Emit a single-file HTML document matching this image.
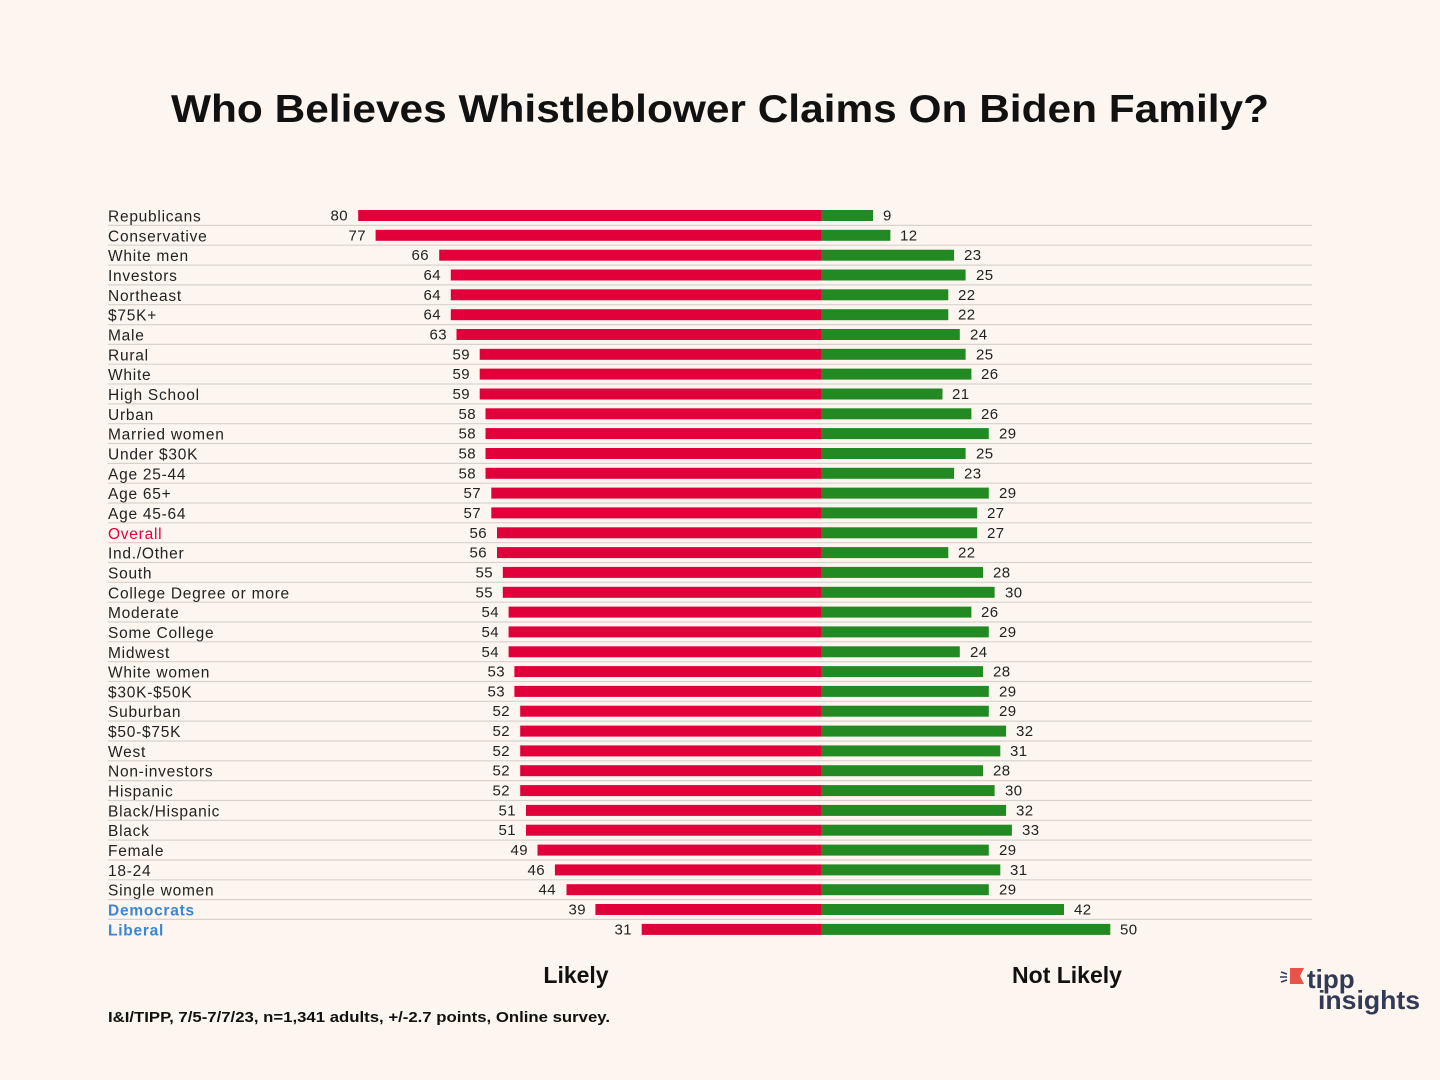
<!DOCTYPE html>
<html><head><meta charset="utf-8"><style>
html,body{margin:0;padding:0;background:#fdf6f0;}
svg{display:block;font-family:"Liberation Sans",sans-serif;}
.l{font-size:15.5px;fill:#222;letter-spacing:0.75px;}
.v{font-size:15px;fill:#222;letter-spacing:0.4px;}
.r{text-anchor:end;}
</style></head><body>
<svg width="1440" height="1080" viewBox="0 0 1440 1080" xmlns="http://www.w3.org/2000/svg">
<rect width="1440" height="1080" fill="#fdf6f0"/>
<text x="720" y="122" text-anchor="middle" font-size="39" font-weight="bold" fill="#111" textLength="1098" lengthAdjust="spacingAndGlyphs">Who Believes Whistleblower Claims On Biden Family?</text>
<g id="rows">
<g stroke="#d8d2cc" stroke-width="1.2">
<line x1="108" x2="1312" y1="225.4" y2="225.4"/><line x1="108" x2="1312" y1="245.2" y2="245.2"/><line x1="108" x2="1312" y1="265.1" y2="265.1"/><line x1="108" x2="1312" y1="284.9" y2="284.9"/><line x1="108" x2="1312" y1="304.7" y2="304.7"/><line x1="108" x2="1312" y1="324.6" y2="324.6"/><line x1="108" x2="1312" y1="344.4" y2="344.4"/><line x1="108" x2="1312" y1="364.2" y2="364.2"/><line x1="108" x2="1312" y1="384.0" y2="384.0"/><line x1="108" x2="1312" y1="403.9" y2="403.9"/><line x1="108" x2="1312" y1="423.7" y2="423.7"/><line x1="108" x2="1312" y1="443.5" y2="443.5"/><line x1="108" x2="1312" y1="463.4" y2="463.4"/><line x1="108" x2="1312" y1="483.2" y2="483.2"/><line x1="108" x2="1312" y1="503.0" y2="503.0"/><line x1="108" x2="1312" y1="522.8" y2="522.8"/><line x1="108" x2="1312" y1="542.7" y2="542.7"/><line x1="108" x2="1312" y1="562.5" y2="562.5"/><line x1="108" x2="1312" y1="582.3" y2="582.3"/><line x1="108" x2="1312" y1="602.2" y2="602.2"/><line x1="108" x2="1312" y1="622.0" y2="622.0"/><line x1="108" x2="1312" y1="641.8" y2="641.8"/><line x1="108" x2="1312" y1="661.7" y2="661.7"/><line x1="108" x2="1312" y1="681.5" y2="681.5"/><line x1="108" x2="1312" y1="701.3" y2="701.3"/><line x1="108" x2="1312" y1="721.1" y2="721.1"/><line x1="108" x2="1312" y1="741.0" y2="741.0"/><line x1="108" x2="1312" y1="760.8" y2="760.8"/><line x1="108" x2="1312" y1="780.6" y2="780.6"/><line x1="108" x2="1312" y1="800.5" y2="800.5"/><line x1="108" x2="1312" y1="820.3" y2="820.3"/><line x1="108" x2="1312" y1="840.1" y2="840.1"/><line x1="108" x2="1312" y1="860.0" y2="860.0"/><line x1="108" x2="1312" y1="879.8" y2="879.8"/><line x1="108" x2="1312" y1="899.6" y2="899.6"/><line x1="108" x2="1312" y1="919.4" y2="919.4"/>
</g>
<g transform="translate(0,215.5)"><text class="l" x="108" y="6">Republicans</text><rect x="358.2" y="-5.5" width="462.8" height="11" fill="#e1003a"/><rect x="821" y="-5.5" width="52.1" height="11" fill="#238a23"/><text class="v r" x="348" y="5">80</text><text class="v" x="883" y="5">9</text></g>
<g transform="translate(0,235.3)"><text class="l" x="108" y="6">Conservative</text><rect x="375.6" y="-5.5" width="445.4" height="11" fill="#e1003a"/><rect x="821" y="-5.5" width="69.4" height="11" fill="#238a23"/><text class="v r" x="366" y="5">77</text><text class="v" x="900" y="5">12</text></g>
<g transform="translate(0,255.2)"><text class="l" x="108" y="6">White men</text><rect x="439.2" y="-5.5" width="381.8" height="11" fill="#e1003a"/><rect x="821" y="-5.5" width="133.1" height="11" fill="#238a23"/><text class="v r" x="429" y="5">66</text><text class="v" x="964" y="5">23</text></g>
<g transform="translate(0,275.0)"><text class="l" x="108" y="6">Investors</text><rect x="450.8" y="-5.5" width="370.2" height="11" fill="#e1003a"/><rect x="821" y="-5.5" width="144.6" height="11" fill="#238a23"/><text class="v r" x="441" y="5">64</text><text class="v" x="976" y="5">25</text></g>
<g transform="translate(0,294.8)"><text class="l" x="108" y="6">Northeast</text><rect x="450.8" y="-5.5" width="370.2" height="11" fill="#e1003a"/><rect x="821" y="-5.5" width="127.3" height="11" fill="#238a23"/><text class="v r" x="441" y="5">64</text><text class="v" x="958" y="5">22</text></g>
<g transform="translate(0,314.7)"><text class="l" x="108" y="6">$75K+</text><rect x="450.8" y="-5.5" width="370.2" height="11" fill="#e1003a"/><rect x="821" y="-5.5" width="127.3" height="11" fill="#238a23"/><text class="v r" x="441" y="5">64</text><text class="v" x="958" y="5">22</text></g>
<g transform="translate(0,334.5)"><text class="l" x="108" y="6">Male</text><rect x="456.5" y="-5.5" width="364.5" height="11" fill="#e1003a"/><rect x="821" y="-5.5" width="138.8" height="11" fill="#238a23"/><text class="v r" x="447" y="5">63</text><text class="v" x="970" y="5">24</text></g>
<g transform="translate(0,354.3)"><text class="l" x="108" y="6">Rural</text><rect x="479.7" y="-5.5" width="341.3" height="11" fill="#e1003a"/><rect x="821" y="-5.5" width="144.6" height="11" fill="#238a23"/><text class="v r" x="470" y="5">59</text><text class="v" x="976" y="5">25</text></g>
<g transform="translate(0,374.1)"><text class="l" x="108" y="6">White</text><rect x="479.7" y="-5.5" width="341.3" height="11" fill="#e1003a"/><rect x="821" y="-5.5" width="150.4" height="11" fill="#238a23"/><text class="v r" x="470" y="5">59</text><text class="v" x="981" y="5">26</text></g>
<g transform="translate(0,394.0)"><text class="l" x="108" y="6">High School</text><rect x="479.7" y="-5.5" width="341.3" height="11" fill="#e1003a"/><rect x="821" y="-5.5" width="121.5" height="11" fill="#238a23"/><text class="v r" x="470" y="5">59</text><text class="v" x="952" y="5">21</text></g>
<g transform="translate(0,413.8)"><text class="l" x="108" y="6">Urban</text><rect x="485.5" y="-5.5" width="335.5" height="11" fill="#e1003a"/><rect x="821" y="-5.5" width="150.4" height="11" fill="#238a23"/><text class="v r" x="476" y="5">58</text><text class="v" x="981" y="5">26</text></g>
<g transform="translate(0,433.6)"><text class="l" x="108" y="6">Married women</text><rect x="485.5" y="-5.5" width="335.5" height="11" fill="#e1003a"/><rect x="821" y="-5.5" width="167.8" height="11" fill="#238a23"/><text class="v r" x="476" y="5">58</text><text class="v" x="999" y="5">29</text></g>
<g transform="translate(0,453.5)"><text class="l" x="108" y="6">Under $30K</text><rect x="485.5" y="-5.5" width="335.5" height="11" fill="#e1003a"/><rect x="821" y="-5.5" width="144.6" height="11" fill="#238a23"/><text class="v r" x="476" y="5">58</text><text class="v" x="976" y="5">25</text></g>
<g transform="translate(0,473.3)"><text class="l" x="108" y="6">Age 25-44</text><rect x="485.5" y="-5.5" width="335.5" height="11" fill="#e1003a"/><rect x="821" y="-5.5" width="133.1" height="11" fill="#238a23"/><text class="v r" x="476" y="5">58</text><text class="v" x="964" y="5">23</text></g>
<g transform="translate(0,493.1)"><text class="l" x="108" y="6">Age 65+</text><rect x="491.3" y="-5.5" width="329.7" height="11" fill="#e1003a"/><rect x="821" y="-5.5" width="167.8" height="11" fill="#238a23"/><text class="v r" x="481" y="5">57</text><text class="v" x="999" y="5">29</text></g>
<g transform="translate(0,512.9)"><text class="l" x="108" y="6">Age 45-64</text><rect x="491.3" y="-5.5" width="329.7" height="11" fill="#e1003a"/><rect x="821" y="-5.5" width="156.2" height="11" fill="#238a23"/><text class="v r" x="481" y="5">57</text><text class="v" x="987" y="5">27</text></g>
<g transform="translate(0,532.8)"><text class="l" x="108" y="6" style="fill:#e1003a">Overall</text><rect x="497" y="-5.5" width="324" height="11" fill="#e1003a"/><rect x="821" y="-5.5" width="156.2" height="11" fill="#238a23"/><text class="v r" x="487" y="5">56</text><text class="v" x="987" y="5">27</text></g>
<g transform="translate(0,552.6)"><text class="l" x="108" y="6">Ind./Other</text><rect x="497" y="-5.5" width="324" height="11" fill="#e1003a"/><rect x="821" y="-5.5" width="127.3" height="11" fill="#238a23"/><text class="v r" x="487" y="5">56</text><text class="v" x="958" y="5">22</text></g>
<g transform="translate(0,572.4)"><text class="l" x="108" y="6">South</text><rect x="502.8" y="-5.5" width="318.2" height="11" fill="#e1003a"/><rect x="821" y="-5.5" width="162" height="11" fill="#238a23"/><text class="v r" x="493" y="5">55</text><text class="v" x="993" y="5">28</text></g>
<g transform="translate(0,592.3)"><text class="l" x="108" y="6">College Degree or more</text><rect x="502.8" y="-5.5" width="318.2" height="11" fill="#e1003a"/><rect x="821" y="-5.5" width="173.6" height="11" fill="#238a23"/><text class="v r" x="493" y="5">55</text><text class="v" x="1005" y="5">30</text></g>
<g transform="translate(0,612.1)"><text class="l" x="108" y="6">Moderate</text><rect x="508.6" y="-5.5" width="312.4" height="11" fill="#e1003a"/><rect x="821" y="-5.5" width="150.4" height="11" fill="#238a23"/><text class="v r" x="499" y="5">54</text><text class="v" x="981" y="5">26</text></g>
<g transform="translate(0,631.9)"><text class="l" x="108" y="6">Some College</text><rect x="508.6" y="-5.5" width="312.4" height="11" fill="#e1003a"/><rect x="821" y="-5.5" width="167.8" height="11" fill="#238a23"/><text class="v r" x="499" y="5">54</text><text class="v" x="999" y="5">29</text></g>
<g transform="translate(0,651.8)"><text class="l" x="108" y="6">Midwest</text><rect x="508.6" y="-5.5" width="312.4" height="11" fill="#e1003a"/><rect x="821" y="-5.5" width="138.8" height="11" fill="#238a23"/><text class="v r" x="499" y="5">54</text><text class="v" x="970" y="5">24</text></g>
<g transform="translate(0,671.6)"><text class="l" x="108" y="6">White women</text><rect x="514.4" y="-5.5" width="306.6" height="11" fill="#e1003a"/><rect x="821" y="-5.5" width="162" height="11" fill="#238a23"/><text class="v r" x="505" y="5">53</text><text class="v" x="993" y="5">28</text></g>
<g transform="translate(0,691.4)"><text class="l" x="108" y="6">$30K-$50K</text><rect x="514.4" y="-5.5" width="306.6" height="11" fill="#e1003a"/><rect x="821" y="-5.5" width="167.8" height="11" fill="#238a23"/><text class="v r" x="505" y="5">53</text><text class="v" x="999" y="5">29</text></g>
<g transform="translate(0,711.2)"><text class="l" x="108" y="6">Suburban</text><rect x="520.2" y="-5.5" width="300.8" height="11" fill="#e1003a"/><rect x="821" y="-5.5" width="167.8" height="11" fill="#238a23"/><text class="v r" x="510" y="5">52</text><text class="v" x="999" y="5">29</text></g>
<g transform="translate(0,731.1)"><text class="l" x="108" y="6">$50-$75K</text><rect x="520.2" y="-5.5" width="300.8" height="11" fill="#e1003a"/><rect x="821" y="-5.5" width="185.1" height="11" fill="#238a23"/><text class="v r" x="510" y="5">52</text><text class="v" x="1016" y="5">32</text></g>
<g transform="translate(0,750.9)"><text class="l" x="108" y="6">West</text><rect x="520.2" y="-5.5" width="300.8" height="11" fill="#e1003a"/><rect x="821" y="-5.5" width="179.3" height="11" fill="#238a23"/><text class="v r" x="510" y="5">52</text><text class="v" x="1010" y="5">31</text></g>
<g transform="translate(0,770.7)"><text class="l" x="108" y="6">Non-investors</text><rect x="520.2" y="-5.5" width="300.8" height="11" fill="#e1003a"/><rect x="821" y="-5.5" width="162" height="11" fill="#238a23"/><text class="v r" x="510" y="5">52</text><text class="v" x="993" y="5">28</text></g>
<g transform="translate(0,790.6)"><text class="l" x="108" y="6">Hispanic</text><rect x="520.2" y="-5.5" width="300.8" height="11" fill="#e1003a"/><rect x="821" y="-5.5" width="173.6" height="11" fill="#238a23"/><text class="v r" x="510" y="5">52</text><text class="v" x="1005" y="5">30</text></g>
<g transform="translate(0,810.4)"><text class="l" x="108" y="6">Black/Hispanic</text><rect x="526" y="-5.5" width="295" height="11" fill="#e1003a"/><rect x="821" y="-5.5" width="185.1" height="11" fill="#238a23"/><text class="v r" x="516" y="5">51</text><text class="v" x="1016" y="5">32</text></g>
<g transform="translate(0,830.2)"><text class="l" x="108" y="6">Black</text><rect x="526" y="-5.5" width="295" height="11" fill="#e1003a"/><rect x="821" y="-5.5" width="190.9" height="11" fill="#238a23"/><text class="v r" x="516" y="5">51</text><text class="v" x="1022" y="5">33</text></g>
<g transform="translate(0,850.1)"><text class="l" x="108" y="6">Female</text><rect x="537.5" y="-5.5" width="283.5" height="11" fill="#e1003a"/><rect x="821" y="-5.5" width="167.8" height="11" fill="#238a23"/><text class="v r" x="528" y="5">49</text><text class="v" x="999" y="5">29</text></g>
<g transform="translate(0,869.9)"><text class="l" x="108" y="6">18-24</text><rect x="554.9" y="-5.5" width="266.1" height="11" fill="#e1003a"/><rect x="821" y="-5.5" width="179.3" height="11" fill="#238a23"/><text class="v r" x="545" y="5">46</text><text class="v" x="1010" y="5">31</text></g>
<g transform="translate(0,889.7)"><text class="l" x="108" y="6">Single women</text><rect x="566.5" y="-5.5" width="254.5" height="11" fill="#e1003a"/><rect x="821" y="-5.5" width="167.8" height="11" fill="#238a23"/><text class="v r" x="556" y="5">44</text><text class="v" x="999" y="5">29</text></g>
<g transform="translate(0,909.5)"><text class="l" x="108" y="6" style="fill:#3b84d6;font-weight:bold">Democrats</text><rect x="595.4" y="-5.5" width="225.6" height="11" fill="#e1003a"/><rect x="821" y="-5.5" width="243" height="11" fill="#238a23"/><text class="v r" x="586" y="5">39</text><text class="v" x="1074" y="5">42</text></g>
<g transform="translate(0,929.4)"><text class="l" x="108" y="6" style="fill:#3b84d6;font-weight:bold">Liberal</text><rect x="641.7" y="-5.5" width="179.3" height="11" fill="#e1003a"/><rect x="821" y="-5.5" width="289.3" height="11" fill="#238a23"/><text class="v r" x="632" y="5">31</text><text class="v" x="1120" y="5">50</text></g>
</g>
<text x="576" y="983" text-anchor="middle" font-size="23" font-weight="bold" fill="#111">Likely</text>
<text x="1067" y="983" text-anchor="middle" font-size="23" font-weight="bold" fill="#111">Not Likely</text>
<text x="108" y="1022" font-size="15" font-weight="bold" fill="#111" textLength="502" lengthAdjust="spacingAndGlyphs">I&amp;I/TIPP, 7/5-7/7/23, n=1,341 adults, +/-2.7 points, Online survey.</text>
<g>
<path d="M1290,968 h14 l-4,8 l4,8 h-14 z" fill="#e8534a"/>
<g stroke="#333a55" stroke-width="1.5"><line x1="1281" y1="972" x2="1287" y2="974"/><line x1="1280" y1="977" x2="1287" y2="977"/><line x1="1281" y1="982" x2="1287" y2="980"/></g>
<text x="1307" y="988" font-size="26" font-weight="bold" fill="#333a55">tipp</text>
<text x="1318" y="1009" font-size="26" font-weight="bold" fill="#333a55" textLength="102" lengthAdjust="spacingAndGlyphs">insights</text>
</g>
</svg>
</body></html>
